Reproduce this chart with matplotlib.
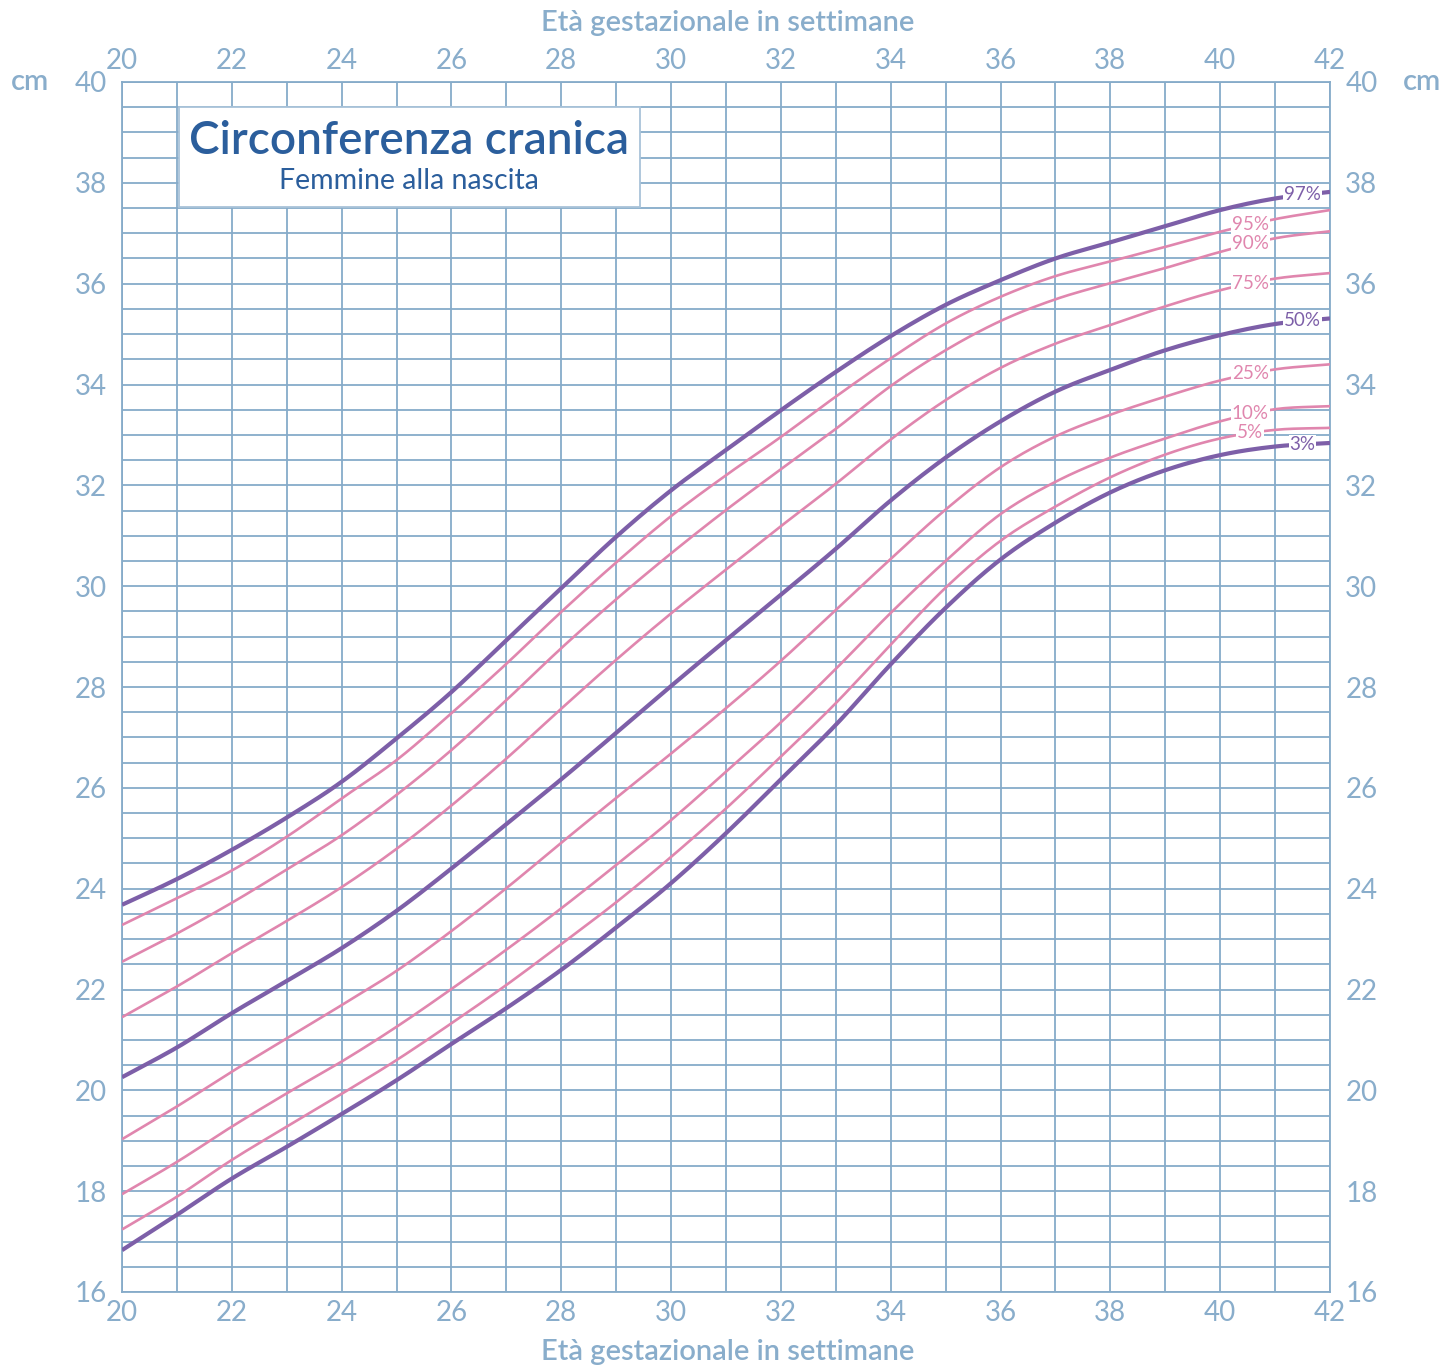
import numpy as np
import matplotlib
matplotlib.use("Agg")
import matplotlib.pyplot as plt
from matplotlib.patches import Rectangle

plt.rcParams['font.family'] = ['Lato', 'DejaVu Sans']

weeks = list(range(20, 43))
percentiles = ["97%", "95%", "90%", "75%", "50%", "25%", "10%", "5%", "3%"]

p97 = [23.68, 24.19, 24.77, 25.41, 26.12, 26.98, 27.90, 28.93, 29.96, 30.98, 31.90, 32.70,
       33.49, 34.25, 34.96, 35.58, 36.07, 36.50, 36.82, 37.14, 37.46, 37.69, 37.82]
p95 = [23.28, 23.81, 24.36, 25.03, 25.79, 26.55, 27.48, 28.46, 29.49, 30.47, 31.39, 32.20,
       32.96, 33.76, 34.52, 35.21, 35.74, 36.15, 36.44, 36.73, 37.03, 37.28, 37.46]
p90 = [22.55, 23.11, 23.72, 24.38, 25.06, 25.86, 26.75, 27.74, 28.77, 29.74, 30.65, 31.51,
       32.32, 33.12, 33.97, 34.68, 35.26, 35.69, 36.01, 36.31, 36.63, 36.90, 37.04]
p75 = [21.45, 22.06, 22.72, 23.36, 24.03, 24.79, 25.65, 26.58, 27.57, 28.54, 29.46, 30.33,
       31.19, 32.03, 32.91, 33.69, 34.33, 34.81, 35.18, 35.55, 35.87, 36.10, 36.21]
p50 = [20.26, 20.85, 21.53, 22.17, 22.82, 23.56, 24.40, 25.28, 26.17, 27.09, 28.02, 28.93,
       29.83, 30.74, 31.70, 32.55, 33.27, 33.86, 34.29, 34.68, 34.98, 35.20, 35.31]
p25 = [19.03, 19.68, 20.37, 21.03, 21.69, 22.37, 23.16, 24.01, 24.91, 25.80, 26.68, 27.58,
       28.52, 29.53, 30.54, 31.52, 32.36, 32.97, 33.40, 33.76, 34.08, 34.30, 34.40]
p10 = [17.94, 18.58, 19.28, 19.94, 20.57, 21.26, 22.01, 22.79, 23.61, 24.47, 25.36, 26.32,
       27.30, 28.36, 29.47, 30.50, 31.43, 32.07, 32.55, 32.93, 33.27, 33.51, 33.57]
p5 = [17.24, 17.89, 18.62, 19.28, 19.93, 20.60, 21.33, 22.09, 22.90, 23.73, 24.63, 25.59,
      26.62, 27.68, 28.84, 29.97, 30.90, 31.58, 32.16, 32.61, 32.93, 33.10, 33.14]
p3 = [16.83, 17.53, 18.25, 18.88, 19.53, 20.20, 20.92, 21.63, 22.39, 23.23, 24.11, 25.10,
      26.17, 27.25, 28.45, 29.57, 30.53, 31.26, 31.86, 32.30, 32.60, 32.77, 32.84]

series = [p97, p95, p90, p75, p50, p25, p10, p5, p3]
major = {"97%", "50%", "3%"}

title = "Circonferenza cranica"
subtitle = "Femmine alla nascita"
xlabel = "Età gestazionale in settimane"
unit = "cm"

PURPLE = "#7d5fa8"
PINK = "#e086ae"
GRID = "#86abc9"
TICK = "#89adcb"
TITLE = "#2b5e9c"


def smooth(xs, ys, n=12):
    """Catmull-Rom rendering through the given points (drawing only)."""
    xs = np.asarray(xs, float)
    ys = np.asarray(ys, float)
    P = np.column_stack([xs, ys])
    P = np.vstack([2 * P[0] - P[1], P, 2 * P[-1] - P[-2]])
    out = []
    t = np.linspace(0, 1, n, endpoint=False)[:, None]
    for i in range(1, len(P) - 2):
        p0, p1, p2, p3 = P[i - 1], P[i], P[i + 1], P[i + 2]
        seg = 0.5 * ((2 * p1) + (-p0 + p2) * t + (2 * p0 - 5 * p1 + 4 * p2 - p3) * t ** 2
                     + (-p0 + 3 * p1 - 3 * p2 + p3) * t ** 3)
        out.append(seg)
    out.append(P[-2][None, :])
    out = np.vstack(out)
    return out[:, 0], out[:, 1]


fig = plt.figure(figsize=(14.46, 13.66), dpi=100)
ax = fig.add_axes([122/1446, 74/1366, (1330-122)/1446, (1292-82)/1366])
ax.set_xlim(20, 42)
ax.set_ylim(16, 40)

# grid
for w in np.arange(20, 43, 1):
    ax.axvline(w, color=GRID, lw=1.3, zorder=1)
for c in np.arange(16, 40.01, 0.5):
    ax.axhline(c, color=GRID, lw=1.3, zorder=1)
for s in ax.spines.values():
    s.set_color(GRID)
    s.set_linewidth(1.3)

# curves
for name, vals in zip(percentiles, series):
    col = PURPLE if name in major else PINK
    lw = 3.0 if name in major else 1.9
    sx, sy = smooth(weeks, vals)
    ax.plot(sx, sy, color=col, lw=lw, solid_capstyle='butt',
            solid_joinstyle='round', zorder=3)
    lx = 41.5 if name in major else 40.55
    ly = np.interp(lx, sx, sy)
    ax.text(lx, ly, name, color=col, fontsize=13.5, ha='center', va='center',
            zorder=5, bbox=dict(boxstyle='square,pad=0.05', fc='white', ec='none'))

# title box
ax.add_patch(Rectangle((21.03, 37.52), 29.44 - 21.03, 39.5 - 37.52, fc='white',
                       ec="#a9c3d9", lw=1.3, zorder=4))
ax.text(25.23, 38.83, title, color=TITLE, fontsize=33, fontweight='semibold',
        ha='center', va='center', zorder=5)
ax.text(25.23, 38.03, subtitle, color=TITLE, fontsize=20.5,
        ha='center', va='center', zorder=5)

# ticks
ax.set_xticks(range(20, 43, 2))
ax.set_yticks(range(16, 41, 2))
ax.tick_params(axis='both', length=0, labelsize=20, labelcolor=TICK,
               top=True, labeltop=True, right=True, labelright=True)
ax.tick_params(axis='x', pad=6)
ax.tick_params(axis='y', pad=11)

fig.text(728/1446, 1 - 23/1366, xlabel, color=TICK, fontsize=21, fontweight='semibold',
         ha='center', va='center')
fig.text(728/1446, 1 - 1352/1366, xlabel, color=TICK, fontsize=21, fontweight='semibold',
         ha='center', va='center')
fig.text(30/1446, 1 - 82/1366, unit, color=TICK, fontsize=21, fontweight='semibold',
         ha='center', va='center')
fig.text(1422/1446, 1 - 82/1366, unit, color=TICK, fontsize=21, fontweight='semibold',
         ha='center', va='center')

fig.savefig("out.png", dpi=100, facecolor='white')
